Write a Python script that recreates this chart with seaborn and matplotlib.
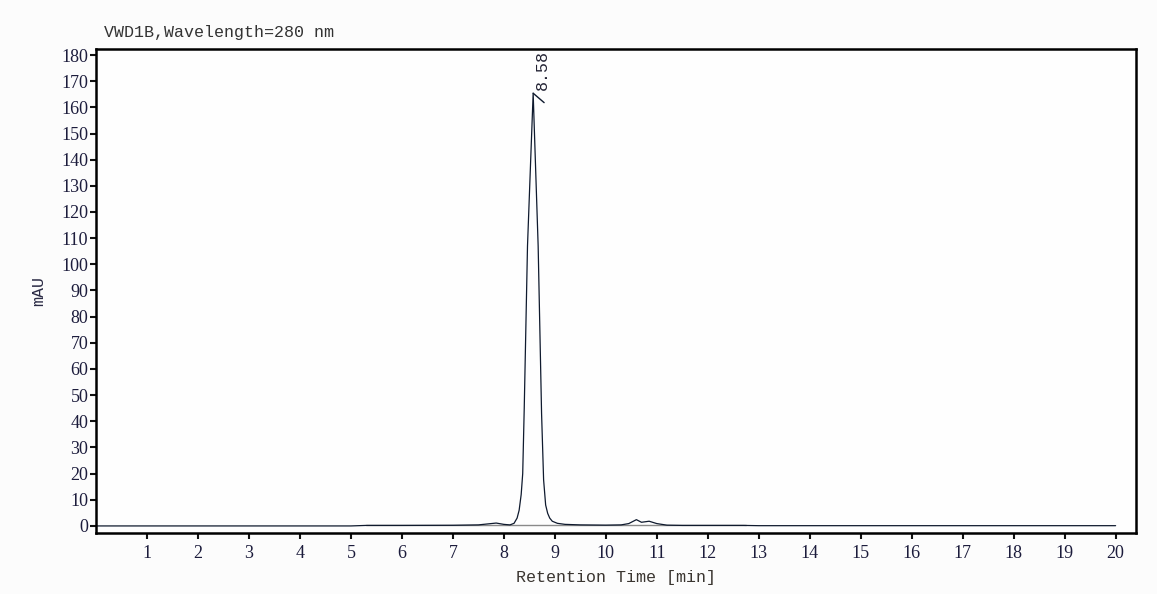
import pandas as pd
import matplotlib
matplotlib.use("Agg")
import matplotlib.pyplot as plt
import seaborn as sns

# chromatogram trace (time in min, signal in mAU)
time_min = [0.0, 2.0, 5.0, 5.3, 6.0, 7.0, 7.5, 7.7, 7.85, 8.0, 8.12, 8.2,
            8.26, 8.30, 8.34, 8.37, 8.40, 8.464, 8.575, 8.673,
            8.74, 8.78, 8.82, 8.86, 8.90, 8.95, 9.05, 9.2, 9.5, 10.0, 10.3,
            10.45, 10.6, 10.7, 10.85, 11.0, 11.2, 11.5, 12.0, 12.7, 13.0,
            16.0, 20.0]
signal_mau = [0.0, 0.0, 0.0, 0.2, 0.2, 0.25, 0.4, 0.8, 1.1, 0.6, 0.4, 1.0,
              3.0, 6.0, 12.0, 20.0, 45.0, 107.0, 165.4, 107.0,
              43.0, 17.6, 8.0, 4.8, 3.0, 1.8, 1.0, 0.6, 0.4, 0.3, 0.4,
              0.9, 2.4, 1.4, 1.8, 0.9, 0.3, 0.2, 0.2, 0.2, 0.1, 0.1, 0.1]

# integration baseline
base_time = [5.3, 12.75]
base_mau = [0.2, 0.2]

peak_time = 8.575
peak_mau = 165.4
peak_label = "8.58"

x_ticks = list(range(1, 21))
y_ticks = list(range(0, 181, 10))

trace = pd.DataFrame({"time": time_min, "mAU": signal_mau})
baseline = pd.DataFrame({"time": base_time, "mAU": base_mau})

sns.set_style("white")
plt.rcParams["font.family"] = ["Liberation Serif", "DejaVu Serif"]

fig = plt.figure(figsize=(11.57, 5.94), dpi=100, facecolor="#fcfcfc")
ax = fig.add_axes([96 / 1157, 1 - 533 / 594, 1040 / 1157, 484 / 594])
ax.set_facecolor("#fefefe")

sns.lineplot(data=baseline, x="time", y="mAU", ax=ax, color="#8a8a8a",
             linewidth=1.0, estimator=None)
sns.lineplot(data=trace, x="time", y="mAU", ax=ax, color="#0f1a2e",
             linewidth=0.9, estimator=None, sort=False)

# peak label with leader
ax.plot([peak_time, 8.79], [peak_mau, 161.8], color="#0f1a2e", linewidth=1.0)
ax.text(8.76, 166.5, peak_label, rotation=90, ha="center", va="bottom",
        fontsize=12, family="Liberation Mono", color="#222233")

ax.set_xlim(0, 20.4)
ax.set_ylim(-2.7, 182.3)
ax.set_xticks(x_ticks)
ax.set_yticks(y_ticks)
ax.tick_params(axis="both", direction="out", length=4.5, width=1.5,
               color="#111111", labelsize=13, labelcolor="#1c1c3c", pad=1,
               bottom=True, left=True)
ax.tick_params(axis="x", pad=4)

for side in ["left", "right", "top", "bottom"]:
    ax.spines[side].set_visible(True)
    ax.spines[side].set_linewidth(1.8)
    ax.spines[side].set_color("#000000")

ax.set_xlabel("Retention Time [min]", fontsize=12, family="Liberation Mono",
              color="#3a3530", labelpad=6)
ax.set_ylabel("mAU", fontsize=12, family="Liberation Mono", color="#2a2a44",
              labelpad=11)

fig.text(104 / 1157, 1 - 32 / 594, "VWD1B,Wavelength=280 nm", fontsize=12,
         family="Liberation Mono", color="#333333", va="center", ha="left")

fig.savefig("out.png", dpi=100, facecolor=fig.get_facecolor())
